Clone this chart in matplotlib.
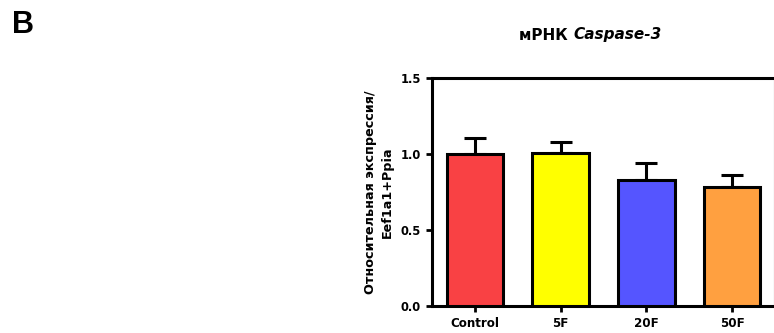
import matplotlib
matplotlib.use("Agg")
import matplotlib.pyplot as plt
import numpy as np

categories = ["Control", "5F", "20F", "50F"]
means = [1.00, 1.005, 0.83, 0.78]
errors = [0.107, 0.072, 0.113, 0.085]
colors = ["#F94144", "#FFFF00", "#5555FF", "#FFA040"]
yticks = [0.0, 0.5, 1.0, 1.5]
title_plain = "мРНК "
title_italic = "Caspase-3"
ylabel = "Относительная экспрессия/\nEef1a1+Ppia"
panel = "B"

plt.rcParams['font.family'] = ['DejaVu Sans']

fig = plt.figure(figsize=(7.74, 3.33), dpi=100)
ax = fig.add_axes([432/774, 1-306/333, 343/774, 228/333])

x = np.arange(len(categories))
ax.bar(x, means, width=0.66, color=colors, edgecolor="black", linewidth=2.2, zorder=3)
ax.errorbar(x, means, yerr=[np.zeros(len(errors)), errors], fmt="none",
            ecolor="black", elinewidth=2.2, capsize=8, capthick=2.2, zorder=2)

ax.set_xlim(-0.5, 3.5)
ax.set_ylim(0, 1.5)
ax.set_yticks(yticks)
ax.set_yticklabels([f"{v:.1f}" for v in yticks], fontsize=8.3, fontweight="bold")
ax.set_xticks(x)
ax.set_xticklabels(categories, fontsize=8.6, fontweight="bold")
for s in ax.spines.values():
    s.set_linewidth(2.2)
ax.tick_params(axis="both", direction="out", length=4, width=2, pad=4)
ax.set_ylabel(ylabel, fontsize=9.2, fontweight="bold", labelpad=5, linespacing=1.4)

fig.text(573/774, 1-35/333, title_plain, ha="right", va="center",
         fontsize=11, fontweight="bold")
fig.text(573/774, 1-35/333, title_italic, ha="left", va="center",
         fontsize=11, fontweight="bold", fontstyle="italic")
fig.text(12/774, 1-25/333, panel, ha="left", va="center", fontsize=22,
         fontweight="bold", family=["Liberation Sans", "DejaVu Sans"])

fig.savefig("out.png", dpi=100)
